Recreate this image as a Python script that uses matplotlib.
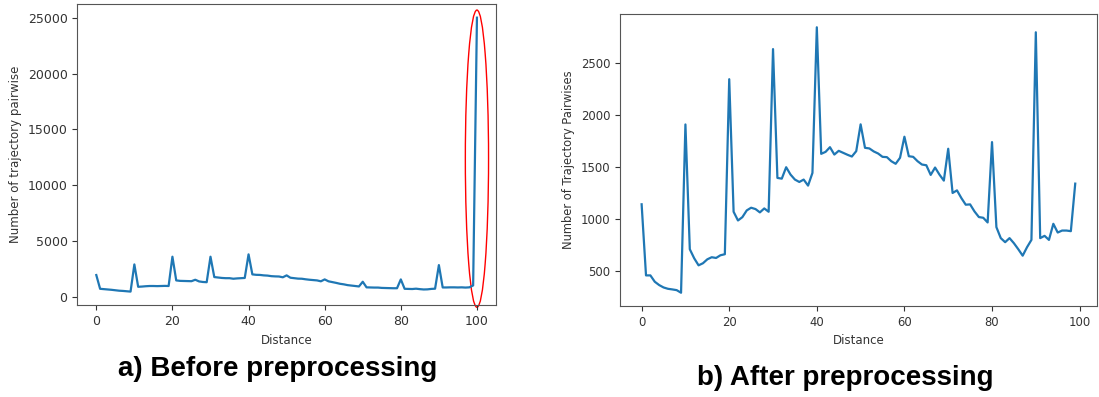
import numpy as np
import matplotlib.pyplot as plt
from matplotlib.patches import Ellipse

# before preprocessing: pair counts for distance 0..100
before_counts = [1980, 750, 720, 690, 660, 620, 580, 560, 530, 500,
                 2930, 930, 950, 980, 1000, 1000, 990, 1000, 1010, 1000,
                 3620, 1500, 1460, 1450, 1440, 1430, 1560, 1410, 1360, 1340,
                 3620, 1800, 1760, 1720, 1700, 1700, 1650, 1680, 1700, 1720,
                 3830, 2040, 2000, 1990, 1950, 1930, 1880, 1860, 1850, 1780,
                 1950, 1740, 1700, 1660, 1650, 1600, 1560, 1530, 1500, 1420,
                 1590, 1420, 1350, 1280, 1200, 1150, 1080, 1040, 1000, 960,
                 1380, 880, 870, 860, 860, 830, 820, 810, 800, 800,
                 1590, 750, 740, 730, 760, 720, 690, 700, 740, 760,
                 2870, 870, 870, 880, 880, 870, 880, 860, 880, 1050,
                 25000]

# after preprocessing: pair counts for distance 0..99
after_counts = [1140, 455, 455, 394, 362, 339, 326, 320, 313, 288,
                1909, 707, 620, 552, 572, 610, 630, 623, 649, 659,
                2345, 1068, 984, 1016, 1081, 1107, 1094, 1062, 1100, 1068,
                2635, 1394, 1387, 1497, 1426, 1378, 1355, 1378, 1320, 1442,
                2845, 1626, 1645, 1690, 1619, 1655, 1636, 1617, 1600, 1652,
                1910, 1684, 1678, 1649, 1629, 1597, 1594, 1555, 1530, 1588,
                1791, 1603, 1597, 1555, 1523, 1516, 1423, 1494, 1426, 1368,
                1675, 1249, 1274, 1200, 1136, 1139, 1071, 1017, 1010, 965,
                1739, 920, 814, 775, 814, 765, 707, 645, 727, 797,
                2797, 814, 836, 797, 952, 868, 887, 887, 881, 1339]

before_dist = np.arange(len(before_counts))
after_dist = np.arange(len(after_counts))

fig = plt.figure(figsize=(10.99, 3.97), dpi=100)

ax1 = fig.add_axes([0.0703, 0.231, 0.381, 0.759])
ax1.plot(before_dist, before_counts, color='#1f77b4', lw=1.6)
ax1.set_xlabel('Distance', fontsize=8.5, color='#333333')
ax1.set_ylabel('Number of trajectory pairwise', fontsize=8.5, color='#333333')
ax1.tick_params(labelsize=9, colors='#333333')
# red ellipse round the outlier at distance 100 (add_artist so limits stay put)
ax1.add_artist(Ellipse((100, 12390), 6.1, 26580, fill=False, edgecolor='red',
                       lw=1.0, clip_on=False))

ax2 = fig.add_axes([0.5641, 0.2292, 0.434, 0.7355])
ax2.plot(after_dist, after_counts, color='#1f77b4', lw=1.6)
ax2.set_xlabel('Distance', fontsize=8.5, color='#333333')
ax2.set_ylabel('Number of Trajectory Pairwises', fontsize=8.3, color='#333333')
ax2.tick_params(labelsize=8.4, colors='#333333')

for ax in (ax1, ax2):
    for sp in ax.spines.values():
        sp.set_color('#555555')

fig.text(278 / 1099, 1 - 376 / 397, 'a) Before preprocessing', ha='center',
         va='baseline', fontsize=20, fontweight='bold', family='Liberation Sans')
fig.text(845 / 1099, 1 - 385 / 397, 'b) After preprocessing', ha='center',
         va='baseline', fontsize=20, fontweight='bold', family='Liberation Sans')

fig.savefig('out.png', dpi=100)
